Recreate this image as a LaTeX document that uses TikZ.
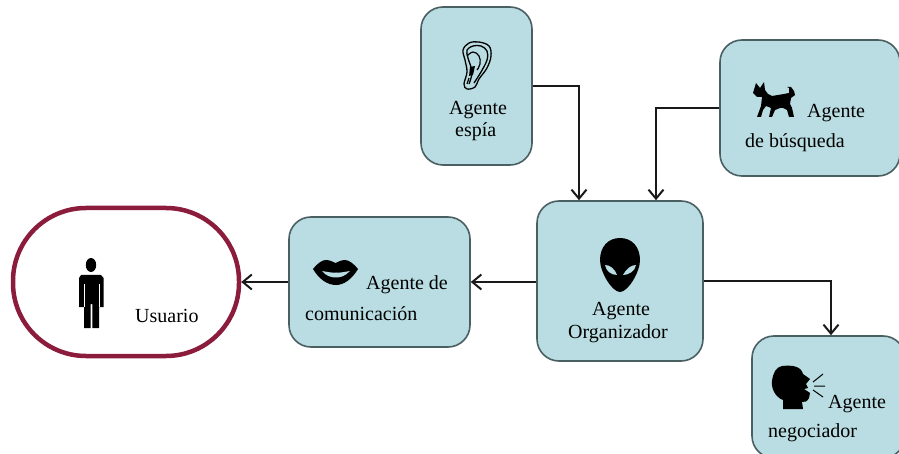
\documentclass[tikz,border=0pt]{standalone}
\usepackage{fontspec}
\setmainfont{Liberation Serif}
\usetikzlibrary{arrows.meta}
\definecolor{boxfill}{HTML}{B9DDE2}
\definecolor{boxline}{HTML}{4A5F62}
\definecolor{userline}{HTML}{8C1C3C}

\begin{document}
\begin{tikzpicture}[
    x=1pt, y=-1pt,
    agent/.style={rectangle, rounded corners=22pt, draw=boxline, fill=boxfill, line width=1.6pt},
    person/.style={rectangle, rounded corners=73pt, draw=userline, fill=white, line width=4.5pt, minimum width=226pt, minimum height=148pt},
    tag/.style={anchor=base west, inner sep=0pt, font=\fontsize{20}{22}\selectfont},
    arrow/.style={-{Straight Barb[length=9pt,width=15pt,line width=2pt]}, line width=2.2pt, black!90}
]
\useasboundingbox (0,0) rectangle (899,454);

% Boxes
\node[person] (usuario) at (126,282) {};
\node[agent, minimum width=111pt, minimum height=158pt] (espia) at (476.5,86) {};
\node[agent, minimum width=180pt, minimum height=136pt] (busqueda) at (810,108) {};
\node[agent, minimum width=181pt, minimum height=130pt] (comunicacion) at (379.5,282) {};
\node[agent, minimum width=166pt, minimum height=160pt] (organizador) at (620,281) {};
\node[agent, minimum width=153pt, minimum height=122pt] (negociador) at (828.5,397) {};

% Arrows
\draw[arrow] (espia.east) -| ([xshift=-41pt]organizador.north);
\draw[arrow] (busqueda.west) -| ([xshift=36pt]organizador.north);
\draw[arrow] ([yshift=-1pt]organizador.west) -- (comunicacion.east);
\draw[arrow] (comunicacion.west) -- (usuario.east);
\draw[arrow] (organizador.east) -| ([xshift=2.5pt]negociador.north);

% Labels
\node[tag] (t1) at (135,322) {Usuario};
\node[tag] (t2) at (449,115) {Agente};
\node[tag] (t3) at (455,137) {espía};
\node[tag] (t4) at (807,118) {Agente};
\node[tag] (t5) at (745,148) {de búsqueda};
\node[tag] (t6) at (366,290) {Agente de};
\node[tag] (t7) at (305,320) {comunicación};
\node[tag] (t8) at (592,315) {Agente};
\node[tag] (t9) at (568,338) {Organizador};
\node[tag] (t10) at (828,408) {Agente};
\node[tag] (t11) at (768,437) {negociador};

% Man
\fill (91,265) ellipse (5.2 and 7);
\fill (81,275) -- (101,275) -- (103.5,278) -- (103.5,307) -- (99,307) -- (99,328) -- (92.3,328) -- (92.3,304) -- (90.5,304) -- (90.5,328) -- (84,328) -- (84,307) -- (79,307) -- (79,278) -- cycle;
\draw[white, line width=0.5pt] (84,284) -- (84,307) (98.8,284) -- (98.8,307);

% Ear
\draw[line width=1.3pt, fill=boxfill] plot[smooth cycle, tension=0.6] coordinates {(467,89) (464,84) (467,72) (465,60) (463,50) (469,43) (479,42) (489,46) (491,56) (487,68) (479,79) (475,87)};
\draw[line width=1.3pt] plot[smooth, tension=0.6] coordinates {(469,84) (472,72) (468,58) (467,50) (473,46) (481,46) (487,51) (487,60) (481,72) (474,83)};
\draw[line width=1.2pt] plot[smooth, tension=0.7] coordinates {(467,56) (473,52) (479,56) (480,64) (477,70)};
\fill (470,67) -- (475,66) -- (473,75) -- (469,76) -- cycle;
\draw[line width=1.2pt] (469,78) -- (467,84);

% Dog
\fill (756,83) -- (760,88) -- (764,82) -- (765,90) -- (768,94) -- (772,96) -- (784,94) -- (789,93) -- (789,88) -- (787,87) -- (791,87) -- (794,91) -- (795,95) -- (791,98) -- (790,104) -- (792,108) -- (794,117) -- (789,117) -- (787,110) -- (783,108) -- (780,108) -- (775,110) -- (772,117) -- (769,117) -- (771,108) -- (766,106) -- (763,110) -- (761,117) -- (757,117) -- (761,106) -- (762,97) -- (757,97) -- (753,93) -- cycle;

% Lips
\fill (313,269) .. controls (318,263) and (322,260) .. (326,260) .. controls (330,260) and (333,262) .. (335.5,263) .. controls (338,262) and (341,260) .. (345,260) .. controls (349,260) and (354,264) .. (358,269) .. controls (352,279) and (344,285) .. (336,285) .. controls (327,285) and (319,279) .. (313,269) -- cycle;
\fill[boxfill] (322,271) .. controls (328,272) and (332,273) .. (336,272.5) .. controls (340,273) and (344,272) .. (350,271) .. controls (345,276) and (341,277.5) .. (336,277.5) .. controls (331,277.5) and (326,276) .. (322,271) -- cycle;

% Alien
\fill (620,238) .. controls (632,238) and (640,247) .. (640,260) .. controls (640,272) and (628,292) .. (620,292) .. controls (612,292) and (600,272) .. (600,260) .. controls (600,247) and (608,238) .. (620,238) -- cycle;
\fill[boxfill] (605,265) .. controls (610,265) and (615,269) .. (617,275) .. controls (611,275) and (606,271) .. (605,265) -- cycle;
\fill[boxfill] (636,265) .. controls (631,265) and (626,269) .. (623,275) .. controls (629,275) and (635,271) .. (636,265) -- cycle;

% Speaking head
\fill (782,366) .. controls (792,365) and (801,366) .. (803,374) -- (810,379) -- (806,384) -- (808,388) -- (804,389) -- (810,393) -- (809,398) .. controls (807,402) and (805,402) .. (802,402) -- (803,409) -- (783,409) -- (783,400) .. controls (775,397) and (771,388) .. (772,381) .. controls (773,373) and (776,367) .. (782,366) -- cycle;
\draw[line width=1pt] (813,382) -- (823,374) (814,386) -- (825,386) (813,390) -- (823,397);
\end{tikzpicture}
\end{document}
